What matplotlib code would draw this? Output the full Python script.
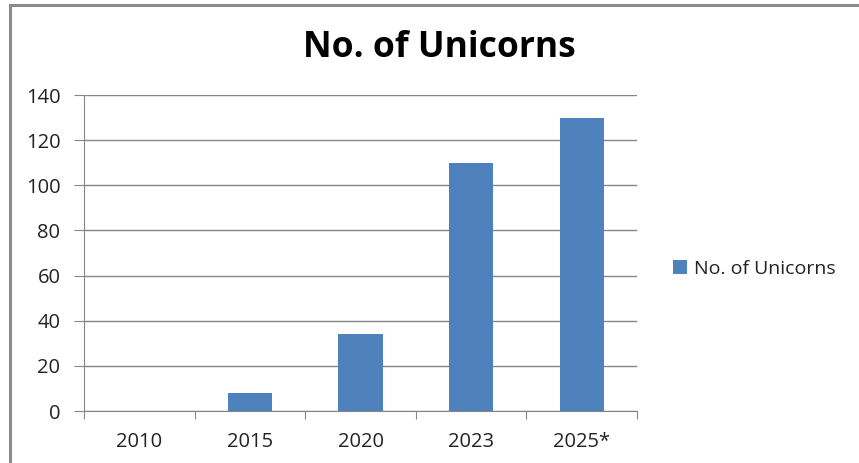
import matplotlib.pyplot as plt
import numpy as np

plt.rcParams['font.family'] = ['Open Sans', 'DejaVu Sans']

tahun = ['2010', '2015', '2020', '2023', '2025*']
jumlah_unicorn = [0, 8, 34, 110, 130]
label_seri = 'No. of Unicorns'
warna_batang = '#4f81bd'
warna_garis = '#868686'

fig = plt.figure(figsize=(8.59, 4.63), dpi=100)
ax = fig.add_axes([0.0978, 0.1123, 0.6438, 0.6825])

# Bingkai luar grafik (hanya sisi kiri dan atas yang terlihat)
fig.add_artist(plt.Line2D([0.0116, 0.0116], [0, 0.989], color='#8c8c8c', lw=2.2))
fig.add_artist(plt.Line2D([0.0116, 1.0], [0.989, 0.989], color='#8c8c8c', lw=2.2))

x = np.arange(len(tahun))
ax.bar(x, jumlah_unicorn, width=0.4, color=warna_batang, label=label_seri, zorder=3)

ax.set_xlim(-0.5, len(tahun) - 0.5)
ax.set_ylim(0, 140)
ax.set_yticks(range(0, 141, 20))
ax.grid(axis='y', color=warna_garis, lw=1, zorder=0)

# Tanda sumbu x di batas antar kategori
ax.set_xticks(np.arange(-0.5, len(tahun), 1))
ax.set_xticklabels([])
ax.set_xticks(x, minor=True)
ax.set_xticklabels(tahun, minor=True)
ax.tick_params(axis='x', which='major', direction='out', length=6, color=warna_garis)
ax.tick_params(axis='x', which='minor', length=0, pad=15, labelsize=14.5, labelcolor='#222222')
ax.tick_params(axis='y', direction='out', length=7, color=warna_garis, pad=10,
               labelsize=14.5, labelcolor='#222222')

for s in ['top', 'right']:
    ax.spines[s].set_visible(False)
for s in ['left', 'bottom']:
    ax.spines[s].set_color(warna_garis)

fig.text(0.512, 0.897, 'No. of Unicorns', ha='center', va='center',
         fontsize=25.5, fontweight='bold', color='black')

ax.legend(loc='center left', bbox_to_anchor=(1.033, 0.45), frameon=False,
          fontsize=14, handlelength=0.75, handleheight=0.75, handletextpad=0.35,
          labelcolor='#222222')

fig.savefig('out.png', dpi=100, facecolor='white')
